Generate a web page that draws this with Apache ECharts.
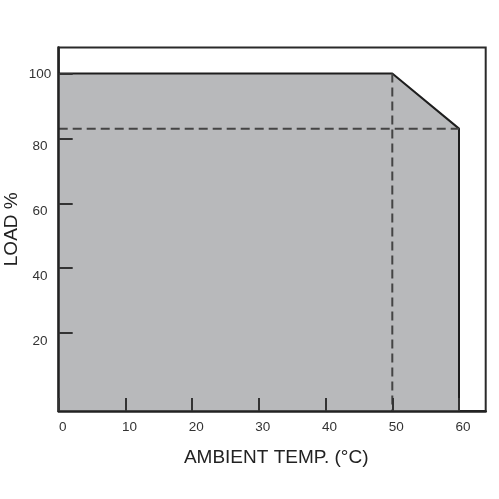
<!DOCTYPE html>
<html><head><meta charset="utf-8">
<script src="https://cdn.jsdelivr.net/npm/echarts@6/dist/echarts.min.js"></script>
<style>html,body{margin:0;padding:0;background:#fff}#c{width:499px;height:499px}</style>
</head><body><div id="c"></div>
<script>
var deratingCurve = [[0, 100], [50, 100], [60, 83], [60, -4]];
var dashedVertical = [[50, 100], [50, -4]];
var dashedHorizontal = [[0, 83], [60, 83]];
var xTicks = [0, 10, 20, 30, 40, 50, 60];
var yTicks = [20, 40, 60, 80, 100];
var xName = 'AMBIENT TEMP. (°C)';
var yName = 'LOAD %';

var chart = echarts.init(document.getElementById('c'));
var font = 'Liberation Sans, Arial, sans-serif';
chart.setOption({
  animation: false,
  grid: {left: 58.7, right: 13.3, top: 47.5, bottom: 88, containLabel: false, outerBoundsMode: 'none',
         show: true, borderColor: '#2a2a2a', borderWidth: 2, backgroundColor: 'transparent'},
  xAxis: {
    type: 'value', min: 0, max: 64, z: 10,
    name: xName, nameLocation: 'middle', nameGap: 37, nameMoveOverlap: false,
    nameTextStyle: {fontFamily: font, fontSize: 19, color: '#222', padding: [0, 0, 0, 8]},
    axisLine: {show: true, onZero: false, lineStyle: {color: '#222', width: 2.5}},
    axisTick: {show: true, inside: true, length: 13, customValues: xTicks, lineStyle: {color: '#333', width: 2}},
    axisLabel: {customValues: xTicks, fontFamily: font, fontSize: 13.5, color: '#333', margin: 9, padding: [0, 0, 0, 8]},
    splitLine: {show: false}
  },
  yAxis: {
    type: 'value', min: -4, max: 108, z: 10,
    name: yName, nameLocation: 'middle', nameGap: 37, nameRotate: 90, nameMoveOverlap: false,
    nameTextStyle: {fontFamily: font, fontSize: 19, color: '#222'},
    axisLine: {show: true, onZero: false, lineStyle: {color: '#222', width: 2.5}},
    axisTick: {show: true, inside: true, length: 14, customValues: yTicks, lineStyle: {color: '#333', width: 2}},
    axisLabel: {
      customValues: yTicks, fontFamily: font, fontSize: 13.5, color: '#333', margin: 18.7, align: 'center',
      formatter: function (v) { return v === 100 ? '{t|' + v + '}' : '{d|' + v + '}'; },
      rich: {
        t: {fontFamily: font, fontSize: 13.5, color: '#333', padding: [2, 0, 0, 0]},
        d: {fontFamily: font, fontSize: 13.5, color: '#333', padding: [16, 0, 0, 0]}
      }
    },
    splitLine: {show: false}
  },
  series: [
    {type: 'line', data: deratingCurve, symbol: 'none', z: 2,
     lineStyle: {color: '#1e1e1e', width: 2},
     areaStyle: {color: '#b8b9bb', opacity: 1, origin: 'start'}},
    {type: 'line', data: dashedVertical, symbol: 'none', z: 3,
     lineStyle: {color: '#444', width: 2, type: [9, 5]}},
    {type: 'line', data: dashedHorizontal, symbol: 'none', z: 3,
     lineStyle: {color: '#444', width: 2, type: [9, 5]}}
  ]
});
</script></body></html>
